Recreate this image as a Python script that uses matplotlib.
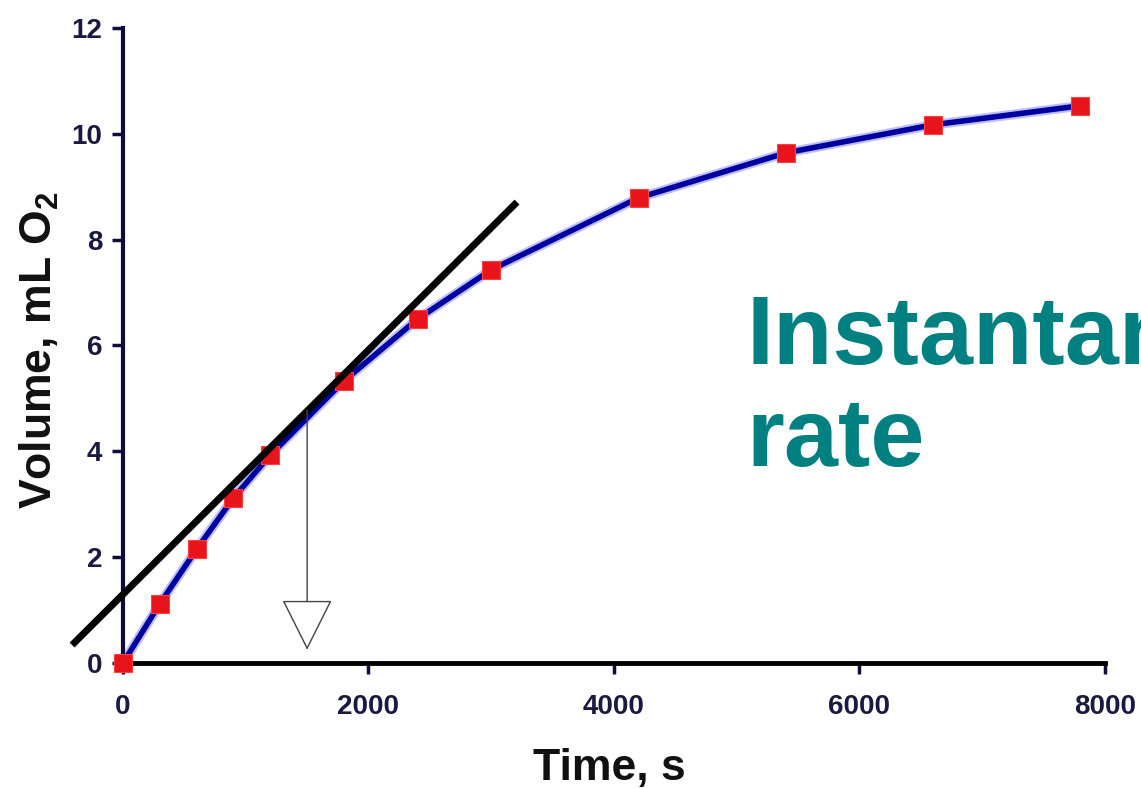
import matplotlib.pyplot as plt

# data
time_s = [0, 300, 600, 900, 1200, 1800, 2400, 3000, 4200, 5400, 6600, 7800]
volume_ml = [0.0, 1.12, 2.15, 3.12, 3.93, 5.33, 6.5, 7.43, 8.79, 9.64, 10.17, 10.53]

tangent_x = [-415, 3210]
tangent_y = [0.34, 8.71]

arrow_x = 1500
arrow_y = [4.78, 0.25]

x_ticks = [0, 2000, 4000, 6000, 8000]
y_ticks = [0, 2, 4, 6, 8, 10, 12]

plt.rcParams['font.family'] = ['Liberation Sans', 'DejaVu Sans']
plt.rcParams['mathtext.fontset'] = 'custom'
plt.rcParams['mathtext.rm'] = 'Liberation Sans'
plt.rcParams['mathtext.bf'] = 'Liberation Sans:bold'

fig = plt.figure(figsize=(11.41, 7.88), dpi=100)
ax = fig.add_axes([0.1078, 0.1586, 0.8606, 0.8059])

navy = '#0d0d3d'

# curve with soft halo
ax.plot(time_s, volume_ml, color='#8080ff', lw=7, alpha=0.5, solid_capstyle='round', zorder=2)
ax.plot(time_s, volume_ml, color='#0000a0', lw=4, solid_capstyle='round', zorder=3)
ax.plot(time_s, volume_ml, 's', color='#e8141c', ms=13, mec='#ff4040', mew=0.8,
        clip_on=False, zorder=4)

# tangent line
ax.plot(tangent_x, tangent_y, color='black', lw=5, solid_capstyle='butt',
        clip_on=False, zorder=5)

# arrow down to the time axis
ax.annotate('', xy=(arrow_x, arrow_y[1]), xytext=(arrow_x, arrow_y[0]),
            arrowprops=dict(arrowstyle='-|>,head_length=0.4,head_width=0.2',
                            mutation_scale=84, fc='white', ec='#444444', lw=1.0,
                            shrinkA=0, shrinkB=0),
            zorder=6)

ax.set_xlim(0, 8000)
ax.set_ylim(0, 12)
ax.set_xticks(x_ticks)
ax.set_yticks(y_ticks)

for side in ['top', 'right']:
    ax.spines[side].set_visible(False)
ax.spines['left'].set_color(navy)
ax.spines['left'].set_linewidth(3)
ax.spines['bottom'].set_color('black')
ax.spines['bottom'].set_linewidth(3.5)

ax.tick_params(axis='both', direction='out', length=8, width=2.5, colors=navy,
               labelsize=20)
ax.tick_params(axis='x', pad=14)
ax.tick_params(axis='y', pad=7)
for lab in ax.get_xticklabels() + ax.get_yticklabels():
    lab.set_fontweight('bold')
    lab.set_color('#1a1a40')

ax.set_xlabel('Time, s', fontsize=32, fontweight='bold', color='#111111')
ax.set_ylabel('Volume, mL $\\mathbf{O_2}$', fontsize=32, fontweight='bold', color='#111111')
ax.xaxis.set_label_coords(0.495, -0.134)
ax.yaxis.set_label_coords(-0.063, 0.493)

fig.text(0.654, 0.538, 'Instantaneous', fontsize=70, fontweight='bold',
         color='#008080', ha='left', va='baseline')
fig.text(0.654, 0.409, 'rate', fontsize=70, fontweight='bold',
         color='#008080', ha='left', va='baseline')

fig.savefig('out.png', dpi=100)
